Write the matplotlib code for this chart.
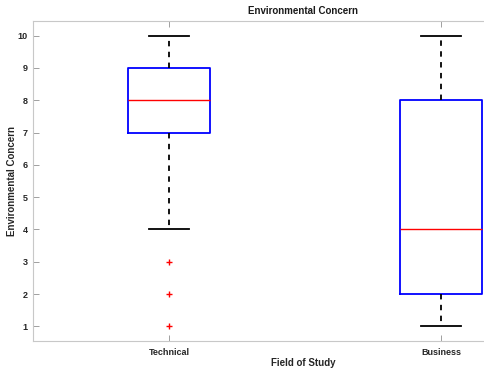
import matplotlib
matplotlib.use("Agg")
import matplotlib.pyplot as plt

categories = ["Technical", "Business"]
medians = [8, 4]
q1 = [7, 2]
q3 = [9, 8]
whisker_low = [4, 1]
whisker_high = [10, 10]
outliers = [[1, 2, 3], []]
yticks = [1, 2, 3, 4, 5, 6, 7, 8, 9, 10]

plt.rcParams['font.family'] = ['Liberation Sans', 'DejaVu Sans']

fig = plt.figure(figsize=(4.84, 3.71), dpi=100)
W, H = 484, 371
left, right, top, bottom = 33, 577, 21, 341
aw, ah = right - left, bottom - top
ax = fig.add_axes([left / W, 1 - bottom / H, aw / W, ah / H])

stats = []
for i, c in enumerate(categories):
    stats.append(dict(label=c, med=medians[i], q1=q1[i], q3=q3[i],
                      whislo=whisker_low[i], whishi=whisker_high[i], fliers=outliers[i]))

ax.bxp(stats, positions=[1, 2], widths=0.3, showfliers=True,
       boxprops=dict(color='#0000ff', linewidth=1.3),
       medianprops=dict(color='#ff0000', linewidth=1.0),
       whiskerprops=dict(color='black', linewidth=1.3, linestyle=(0, (3, 3))),
       capprops=dict(color='black', linewidth=1.3),
       capwidths=0.15,
       flierprops=dict(marker='+', markeredgecolor='#ff0000', markersize=5, linestyle='none'))

ax.set_xlim(0.5, 2.5)
ax.set_ylim(0.55, 10.45)
ax.set_yticks(yticks)
ax.set_yticklabels([str(v) for v in yticks])
ax.set_xticks([1, 2])
ax.set_xticklabels(categories)

for s in ax.spines.values():
    s.set_color('#c8c8c8')
    s.set_linewidth(0.8)

ax.tick_params(axis='both', direction='in', length=4, width=0.6, color='#909090',
               labelsize=6.5, labelcolor='#262626', top=True, right=True)
ax.tick_params(axis='y', pad=4)
ax.tick_params(axis='x', pad=5)
for lbl in ax.get_xticklabels() + ax.get_yticklabels():
    lbl.set_fontweight('bold')

ax.set_title("Environmental Concern", fontsize=7, fontweight='bold', color='#1a1a1a', pad=5,
             x=(303 - left) / aw)
ax.set_xlabel("Field of Study", fontsize=7, fontweight='bold', color='#262626')
ax.xaxis.set_label_coords((303 - left) / aw, -(363 - bottom) / ah)
ax.xaxis.label.set_va('center')
ax.set_ylabel("Environmental Concern", fontsize=7, fontweight='bold', color='#262626')
ax.yaxis.set_label_coords(-(left - 12) / aw, 0.5)
ax.yaxis.label.set_va('center')

fig.savefig("out.png", dpi=100)
